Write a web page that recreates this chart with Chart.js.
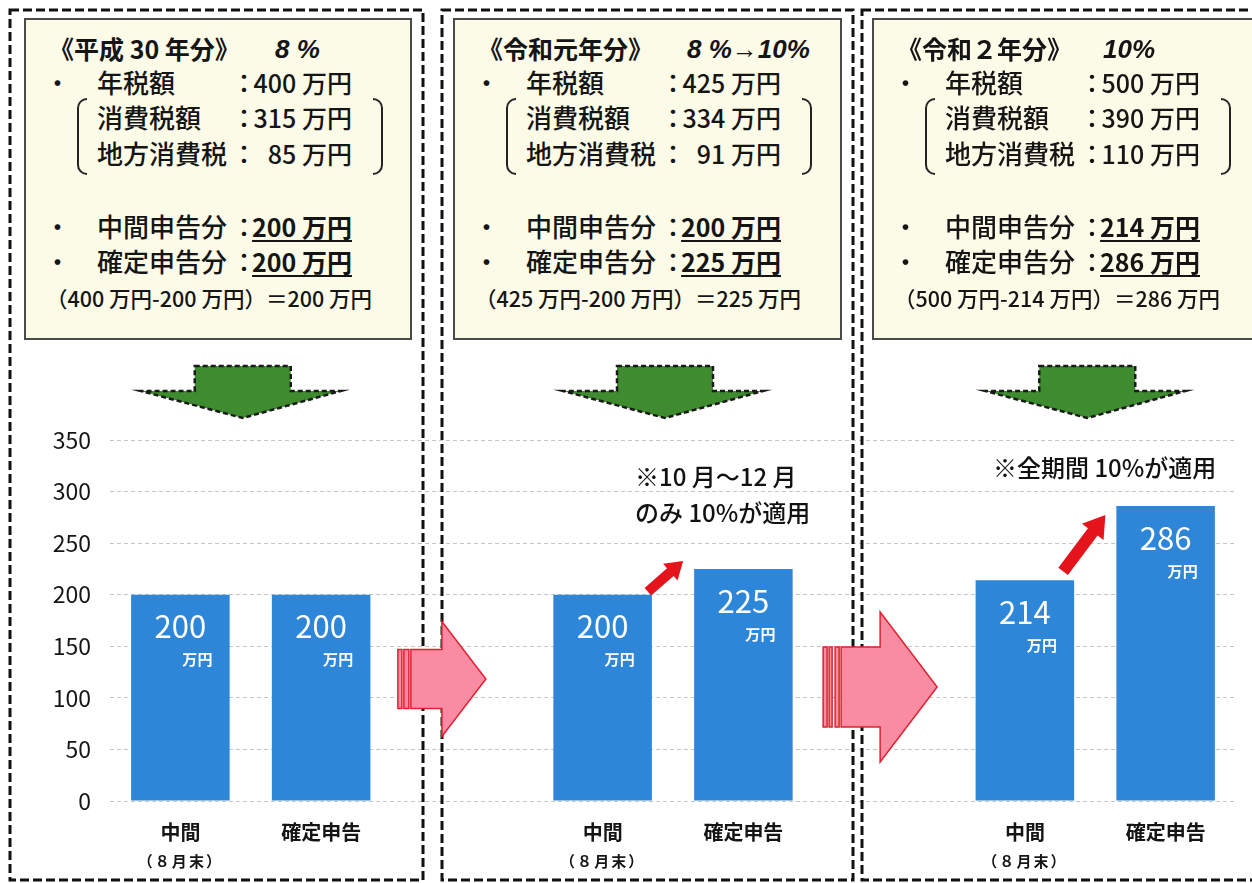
<!DOCTYPE html>
<html lang="ja">
<head>
<meta charset="utf-8">
<title>消費税の中間申告と確定申告</title>
<script src="https://cdn.jsdelivr.net/npm/chart.js@4.4.1/dist/chart.umd.min.js"></script>
<style>
  html, body { margin: 0; padding: 0; background: #fff; }
  #page { position: relative; width: 1252px; height: 883px; overflow: hidden;
          font-family: 'Liberation Sans Narrow', 'Noto Sans CJK JP', sans-serif; color: #151515; }
  #chart { position: absolute; left: 0; top: 0; }
  .box { position: absolute; top: 18px; height: 322px; box-sizing: border-box;
         background: #fbfbe8; border: 2px solid #4a4a4a; }
  .t { position: absolute; white-space: nowrap; line-height: 1; font-weight: 500; }
  .title { font-weight: bold; font-family: 'Noto Sans CJK JP', sans-serif; }
  .rate { font-family: 'Liberation Sans', sans-serif; font-weight: bold; font-style: italic; }
  .strong { font-weight: bold; text-decoration: underline; text-decoration-thickness: 2px; text-underline-offset: 3px; }
  .paren { position: absolute; width: 10px; height: 77px; top: 78px; border: 2px solid #222; box-sizing: border-box; }
  .paren.l { border-right: none; border-radius: 10px 0 0 10px; }
  .paren.r { border-left: none; border-radius: 0 10px 10px 0; }
  .note { position: absolute; white-space: nowrap; line-height: 1; font-size: 24px;
          font-family: 'Noto Sans CJK JP', sans-serif; font-weight: 500; color: #111; }
</style>
</head>
<body>
<div id="page">
  <canvas id="chart" width="1252" height="883"></canvas>
</div>
<script>
// 棒グラフ（万円）
const categories = ['中間', '確定申告', '', '中間', '確定申告', '', '中間', '確定申告'];
const subLabels = ['（８月末）', '', '', '（８月末）', '', '', '（８月末）', ''];
const yMax = 350;
const yStep = 50;

// 各年分の内訳（万円）
const yearTitles = ['《平成 30 年分》', '《令和元年分》', '《令和２年分》'];
const taxRates = ['8 %', '8 %→10%', '10%'];
const annualTax = [400, 425, 500];
const nationalTax = [315, 334, 390];
const localTax = [85, 91, 110];
const interimTax = [200, 200, 214];
const finalTax = [200, 225, 286];

const notes = [[], ['※10 月～12 月', 'のみ 10%が適用'], ['※全期間 10%が適用']];

// bar values: interim, final, gap per year
const barValues = [];
interimTax.forEach((v, i) => {
    barValues.push(v, finalTax[i]);
    if (i < interimTax.length - 1) barValues.push(null);
});

const page = document.getElementById('page');
const boxLeft = [24, 453, 872];
const boxWidth = [388, 389, 400];
const rateLeft = [251, 234, 231];

function addText(parent, txt, left, cy, size, cls, right) {
    const s = document.createElement('span');
    s.className = 't ' + (cls || '');
    s.textContent = txt;
    if (right !== undefined) s.style.right = right + 'px';
    else s.style.left = (left - 2) + 'px';
    s.style.top = (cy - 2 - size * 0.56) + 'px';
    s.style.fontSize = size + 'px';
    parent.appendChild(s);
    return s;
}

yearTitles.forEach((title, i) => {
    const box = document.createElement('div');
    box.className = 'box';
    box.style.left = boxLeft[i] + 'px';
    box.style.width = boxWidth[i] + 'px';
    page.appendChild(box);

    addText(box, title, 25, 32, 25, 'title');
    addText(box, taxRates[i], rateLeft[i], 33, 26, 'rate');

    const rows = [
        { bullet: true, label: '年税額', value: annualTax[i], cy: 66 },
        { label: '消費税額', value: nationalTax[i], cy: 101 },
        { label: '地方消費税', value: localTax[i], cy: 137 },
        { bullet: true, label: '中間申告分', value: interimTax[i], cy: 210, strong: true },
        { bullet: true, label: '確定申告分', value: finalTax[i], cy: 245, strong: true }
    ];
    const valueRight = boxWidth[i] - 4 - 326;
    rows.forEach(r => {
        if (r.bullet) addText(box, '・', 21, r.cy, 25);
        addText(box, r.label, 73, r.cy, 26);
        addText(box, '：', 207, r.cy, 26);
        addText(box, r.value + ' 万円', 0, r.cy, 25, r.strong ? 'strong' : '', valueRight);
    });
    addText(box, '（' + annualTax[i] + ' 万円-' + interimTax[i] + ' 万円）＝' + finalTax[i] + ' 万円', 22, 281, 21.5);

    const pl = document.createElement('div');
    pl.className = 'paren l';
    pl.style.left = '51px';
    box.appendChild(pl);
    const pr = document.createElement('div');
    pr.className = 'paren r';
    pr.style.left = '347px';
    box.appendChild(pr);
});

const noteLeft = [0, 635, 993];
const noteTop = [0, 477, 468];
notes.forEach((lines, i) => {
    lines.forEach((line, j) => {
        const d = document.createElement('div');
        d.className = 'note';
        d.textContent = line;
        d.style.left = noteLeft[i] + 'px';
        d.style.top = (noteTop[i] + j * 36 - 13) + 'px';
        page.appendChild(d);
    });
});

const numFont = "'Liberation Sans Narrow', 'Noto Sans CJK JP', sans-serif";
const jpFont = "'Noto Sans CJK JP', sans-serif";

function greenArrow(ctx, cx, top) {
    ctx.save();
    ctx.beginPath();
    ctx.moveTo(cx - 48, top - 74);
    ctx.lineTo(cx + 48, top - 74);
    ctx.lineTo(cx + 48, top - 49);
    ctx.lineTo(cx + 98, top - 49);
    ctx.lineTo(cx, top - 22);
    ctx.lineTo(cx - 102, top - 49);
    ctx.lineTo(cx - 48, top - 49);
    ctx.closePath();
    ctx.fillStyle = '#3e8c2f';
    ctx.fill();
    ctx.setLineDash([5, 3]);
    ctx.lineWidth = 2.5;
    ctx.strokeStyle = '#1a1a1a';
    ctx.stroke();
    ctx.restore();
}

function pinkArrow(ctx, cx, cy, p) {
    ctx.save();
    ctx.fillStyle = '#f98ca3';
    ctx.strokeStyle = '#e1202f';
    ctx.lineWidth = 1.5;
    p.stripes.forEach(s => {
        ctx.fillRect(cx + s[0], cy - p.bodyHalf, s[1] - s[0], p.bodyHalf * 2);
        ctx.strokeRect(cx + s[0], cy - p.bodyHalf, s[1] - s[0], p.bodyHalf * 2);
    });
    ctx.beginPath();
    ctx.moveTo(cx + p.body, cy - p.bodyHalf);
    ctx.lineTo(cx + p.head, cy - p.bodyHalf);
    ctx.lineTo(cx + p.head, cy - p.headHalf);
    ctx.lineTo(cx + p.tip, cy);
    ctx.lineTo(cx + p.head, cy + p.headHalf);
    ctx.lineTo(cx + p.head, cy + p.bodyHalf);
    ctx.lineTo(cx + p.body, cy + p.bodyHalf);
    ctx.closePath();
    ctx.fill();
    ctx.stroke();
    ctx.restore();
}

function redArrow(ctx, x0, y0, x1, y1, w, hw, hl) {
    const len = Math.hypot(x1 - x0, y1 - y0);
    ctx.save();
    ctx.translate(x0, y0);
    ctx.rotate(Math.atan2(y1 - y0, x1 - x0));
    ctx.beginPath();
    ctx.moveTo(0, -w / 2);
    ctx.lineTo(len - hl, -w / 2);
    ctx.lineTo(len - hl, -hw / 2);
    ctx.lineTo(len, 0);
    ctx.lineTo(len - hl, hw / 2);
    ctx.lineTo(len - hl, w / 2);
    ctx.lineTo(0, w / 2);
    ctx.closePath();
    ctx.fillStyle = '#e5141c';
    ctx.fill();
    ctx.restore();
}

const decorations = {
    id: 'decorations',
    afterDraw(chart) {
        const { ctx, chartArea, scales: { x } } = chart;
        const bars = chart.getDatasetMeta(0).data;

        // dashed frames around each year
        ctx.save();
        ctx.setLineDash([9, 4]);
        ctx.lineWidth = 3;
        ctx.strokeStyle = '#111';
        ctx.strokeRect(10, 10, 413, 870);
        ctx.strokeRect(442, 10, 411, 870);
        ctx.strokeRect(862, 10, 420, 870);
        ctx.restore();

        // green arrows under the boxes
        [0, 3, 6].forEach(i => {
            const cx = (x.getPixelForValue(i) + x.getPixelForValue(i + 1)) / 2 - 8;
            greenArrow(ctx, cx, chartArea.top);
        });

        // pink arrows between years
        pinkArrow(ctx, x.getPixelForValue(2), 679, {
            stripes: [[-64, -60], [-58, -53]], body: -51, head: -20, tip: 24, bodyHalf: 29.5, headHalf: 57.5
        });
        pinkArrow(ctx, x.getPixelForValue(5), 687, {
            stripes: [[-61, -57], [-55, -52], [-49, -45]], body: -43, head: -4, tip: 53, bodyHalf: 40, headHalf: 75
        });

        // red arrows between interim and final bars
        const b3 = bars[3], b4 = bars[4], b6 = bars[6], b7 = bars[7];
        redArrow(ctx, b3.x + b3.width / 2 - 4, b3.y - 3, b4.x - b4.width / 2 - 11, b4.y - 8, 10, 22, 17);
        redArrow(ctx, b6.x + b6.width / 2 - 11, b6.y - 9, b7.x - b7.width / 2 - 11, b7.y + 9, 12, 27, 21);

        // values inside bars
        ctx.save();
        ctx.fillStyle = '#fff';
        ctx.textAlign = 'center';
        ctx.textBaseline = 'middle';
        bars.forEach((bar, i) => {
            if (barValues[i] == null) return;
            ctx.font = '31px ' + numFont;
            ctx.fillText(String(barValues[i]), bar.x, bar.y + 32);
            ctx.font = 'bold 15px ' + jpFont;
            ctx.fillText('万円', bar.x + 17, bar.y + 65);
        });
        ctx.restore();

        // second line of x labels
        ctx.save();
        ctx.fillStyle = '#151515';
        ctx.textAlign = 'center';
        ctx.textBaseline = 'middle';
        ctx.font = 'bold 15px ' + jpFont;
        ctx.letterSpacing = '2px';
        subLabels.forEach((s, i) => {
            if (s) ctx.fillText(s, x.getPixelForValue(i), 861);
        });
        ctx.restore();
    }
};

new Chart(document.getElementById('chart'), {
    type: 'bar',
    data: {
        labels: categories,
        datasets: [{
            data: barValues,
            backgroundColor: '#2e86d8',
            barPercentage: 0.7,
            categoryPercentage: 1
        }]
    },
    options: {
        responsive: false,
        animation: false,
        layout: { padding: { left: 10, right: 16, top: 440, bottom: 0 } },
        plugins: {
            legend: { display: false },
            tooltip: { enabled: false }
        },
        scales: {
            x: {
                grid: { display: false },
                border: { display: false },
                ticks: {
                    color: '#151515',
                    font: { family: jpFont, size: 20, weight: 'bold' },
                    padding: 11,
                    maxRotation: 0,
                    autoSkip: false
                },
                afterFit: s => { s.height = 82; }
            },
            y: {
                min: 0,
                max: yMax,
                ticks: {
                    stepSize: yStep,
                    color: '#151515',
                    font: { family: numFont, size: 23 },
                    padding: 19
                },
                grid: { color: '#c4c4c4', drawTicks: false },
                border: { display: false, dash: [4, 3] },
                afterFit: s => { s.width = 100; }
            }
        }
    },
    plugins: [decorations]
});
</script>
</body>
</html>
